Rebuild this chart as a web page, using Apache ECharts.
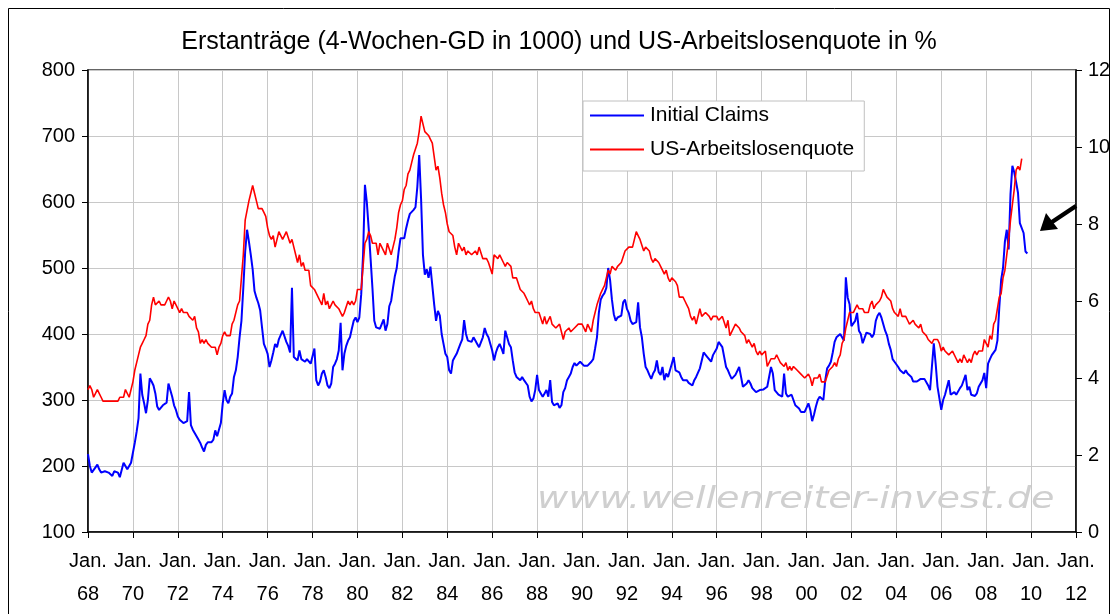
<!DOCTYPE html>
<html>
<head>
<meta charset="utf-8">
<script src="https://cdn.jsdelivr.net/npm/echarts@6/dist/echarts.min.js"></script>
<style>
html,body{margin:0;padding:0;background:#fff;}
#c{width:1118px;height:614px;}
</style>
</head>
<body>
<div id="c"></div>
<script>
// Monthly values starting January 1968
const startYear = 1968;
const xTicks = [1968,1970,1972,1974,1976,1978,1980,1982,1984,1986,1988,1990,1992,1994,1996,1998,2000,2002,2004,2006,2008,2010,2012];

// Initial Claims, 4-week average, thousands (monthly readings)
const claims = [
 218,200,190,192,198,202,195,190,188,192,195,190,
 188,185,192,195,190,183,180,205,200,195,195,205,
 220,235,252,272,340,308,295,280,300,333,328,322,
 310,290,285,288,292,290,296,325,322,305,292,285,
 275,270,268,265,262,268,312,262,255,250,248,240,
 235,228,222,232,236,238,236,240,254,245,248,265,
 295,315,300,295,305,310,335,345,365,395,420,470,
 525,558,540,520,498,465,455,447,436,410,385,378,
 370,350,360,372,385,380,392,395,405,408,388,382,
 372,470,365,362,360,375,362,360,358,362,360,355,
 352,378,330,322,328,340,345,335,322,318,325,350,
 355,362,375,417,345,370,382,390,395,408,420,425,
 418,425,460,520,626,600,560,515,470,420,410,412,
 408,410,422,405,415,442,450,470,488,500,525,545,
 548,545,560,572,582,580,588,592,623,671,605,520,
 490,498,485,502,500,445,420,435,428,400,385,370,
 365,345,340,360,365,370,368,385,392,421,400,390,
 392,388,395,390,385,380,382,395,409,400,395,395,
 375,360,372,380,385,378,370,405,402,385,380,360,
 342,335,332,330,335,330,328,322,305,298,302,315,
 338,315,310,305,310,315,305,330,297,292,290,295,
 288,292,312,318,330,335,340,350,356,352,355,358,
 355,352,350,352,355,358,362,378,395,432,452,458,
 462,470,500,482,452,430,420,425,422,428,448,452,
 438,432,420,415,412,418,448,410,395,370,350,345,
 338,332,340,345,360,342,338,350,330,340,335,345,
 355,365,345,348,342,335,330,328,330,326,325,322,
 330,335,338,348,360,372,375,365,362,358,368,365,
 378,388,385,380,365,350,345,338,332,335,338,340,
 350,335,320,320,325,330,325,318,315,312,312,315,
 318,316,318,320,322,350,340,315,312,308,305,305,
 340,310,305,305,308,300,292,290,287,282,283,282,
 282,295,285,268,278,290,300,305,308,300,330,348,
 352,358,372,388,395,398,400,395,390,486,455,445,
 412,410,420,432,405,400,386,388,402,405,400,395,
 400,420,428,432,425,422,405,398,385,376,362,358,
 360,350,345,342,340,345,340,338,335,328,326,328,
 330,332,335,332,330,322,315,318,386,355,320,318,
 285,300,308,310,330,308,310,312,308,306,318,322,
 325,338,315,320,308,310,306,310,320,325,330,341,
 318,355,362,368,370,376,390,440,482,500,540,558,
 528,612,655,645,630,614,568,570,553,525,522
];

// US unemployment rate, percent (monthly)
const unemp = [
 3.7,3.8,3.7,3.5,3.5,3.7,3.7,3.5,3.4,3.4,3.4,3.4,
 3.4,3.4,3.4,3.4,3.4,3.5,3.5,3.5,3.7,3.7,3.5,3.5,
 3.9,4.2,4.4,4.6,4.8,4.9,5.0,5.1,5.4,5.5,5.9,6.1,
 5.9,5.9,6.0,5.9,5.9,5.9,6.0,6.1,6.0,5.8,6.0,6.0,
 5.8,5.7,5.8,5.7,5.7,5.7,5.6,5.6,5.5,5.6,5.3,5.2,
 4.9,5.0,4.9,5.0,4.9,4.9,4.8,4.8,4.8,4.6,4.8,4.9,
 5.1,5.2,5.1,5.1,5.1,5.4,5.5,5.5,5.9,6.0,6.6,7.2,
 8.1,8.1,8.6,8.8,9.0,8.8,8.6,8.4,8.4,8.4,8.3,8.2,
 7.9,7.7,7.6,7.7,7.4,7.6,7.8,7.8,7.6,7.7,7.8,7.8,
 7.5,7.6,7.4,7.2,7.0,7.2,6.9,7.0,6.8,6.8,6.8,6.4,
 6.4,6.3,6.3,6.1,6.0,5.9,6.2,5.9,6.0,5.8,5.9,6.0,
 5.9,5.9,5.8,5.8,5.6,5.7,5.7,6.0,5.9,6.0,5.9,6.0,
 6.3,6.3,6.3,6.9,7.5,7.6,7.8,7.7,7.5,7.5,7.5,7.2,
 7.5,7.4,7.4,7.2,7.5,7.5,7.2,7.4,7.6,7.9,8.3,8.5,
 8.6,8.9,9.0,9.3,9.4,9.6,9.8,9.8,10.1,10.4,10.8,10.8,
 10.4,10.4,10.3,10.2,10.1,10.1,9.4,9.5,9.2,8.8,8.5,8.3,
 8.0,7.8,7.8,7.7,7.4,7.2,7.5,7.5,7.3,7.4,7.2,7.3,
 7.3,7.2,7.2,7.3,7.2,7.4,7.4,7.1,7.1,7.1,7.0,7.0,
 6.7,7.2,7.2,7.1,7.2,7.2,7.0,6.9,7.0,7.0,6.9,6.6,
 6.6,6.6,6.6,6.3,6.3,6.2,6.1,6.0,5.9,6.0,5.8,5.7,
 5.7,5.7,5.7,5.4,5.6,5.4,5.4,5.6,5.4,5.4,5.3,5.3,
 5.4,5.2,5.0,5.2,5.2,5.3,5.2,5.2,5.3,5.3,5.4,5.4,
 5.4,5.3,5.2,5.4,5.4,5.2,5.5,5.7,5.9,5.9,6.2,6.3,
 6.4,6.6,6.8,6.7,6.9,6.9,6.8,6.9,6.9,7.0,7.0,7.3,
 7.3,7.4,7.4,7.4,7.6,7.8,7.7,7.6,7.6,7.3,7.4,7.4,
 7.3,7.1,7.0,7.1,7.1,7.0,6.9,6.8,6.7,6.8,6.6,6.5,
 6.6,6.6,6.5,6.4,6.1,6.1,6.1,6.0,5.9,5.8,5.6,5.5,
 5.6,5.4,5.4,5.8,5.6,5.6,5.7,5.7,5.6,5.5,5.6,5.6,
 5.6,5.5,5.5,5.6,5.6,5.3,5.5,5.1,5.2,5.2,5.4,5.4,
 5.3,5.2,5.2,5.1,4.9,5.0,4.9,4.8,4.9,4.7,4.6,4.7,
 4.6,4.6,4.7,4.3,4.4,4.5,4.5,4.5,4.6,4.5,4.4,4.4,
 4.3,4.4,4.2,4.3,4.2,4.3,4.3,4.2,4.2,4.1,4.1,4.0,
 4.0,4.1,4.0,3.8,4.0,4.0,4.0,4.1,3.9,3.9,3.9,3.9,
 4.2,4.2,4.3,4.4,4.3,4.5,4.6,4.9,5.0,5.3,5.5,5.7,
 5.7,5.7,5.7,5.9,5.8,5.8,5.8,5.7,5.7,5.7,5.9,6.0,
 5.8,5.9,5.9,6.0,6.1,6.3,6.2,6.1,6.1,6.0,5.8,5.7,
 5.7,5.6,5.8,5.6,5.6,5.6,5.5,5.4,5.4,5.5,5.4,5.4,
 5.3,5.4,5.2,5.2,5.1,5.0,5.0,4.9,5.0,5.0,5.0,4.9,
 4.7,4.8,4.7,4.7,4.6,4.6,4.7,4.7,4.5,4.4,4.5,4.4,
 4.6,4.5,4.4,4.5,4.4,4.6,4.7,4.6,4.7,4.7,4.7,5.0,
 4.9,4.8,5.1,5.0,5.4,5.5,5.8,6.1,6.2,6.6,6.8,7.2,
 7.6,8.1,8.5,8.9,9.4,9.5,9.4,9.7
];

const leftTicks = {min:100, max:800, step:100};
const rightTicks = {min:0, max:12, step:2};

function toPairs(arr){ return arr.map((v,i)=>[startYear + i/12, v]); }

const FONT = '"Liberation Sans", Arial, sans-serif';
const chart = echarts.init(document.getElementById('c'), null, {renderer:'canvas'});

chart.setOption({
  animation:false,
  backgroundColor:'#fff',
  title:{
    text:'Erstanträge (4-Wochen-GD in 1000) und US-Arbeitslosenquote in %',
    left:'center', top:25,
    textStyle:{fontFamily:FONT, fontSize:25, fontWeight:'normal', color:'#000'}
  },
  legend:{
    orient:'vertical', left:583, top:101,
    backgroundColor:'#fff', borderColor:'#c0c0c0', borderWidth:1,
    padding:[4,10,11,7], itemGap:13, itemWidth:54, itemHeight:2,
    icon:'rect',
    textStyle:{fontFamily:FONT, fontSize:21, color:'#000', padding:[0,0,0,1]},
    data:['Initial Claims','US-Arbeitslosenquote']
  },
  grid:{left:88, right:42, top:70, bottom:82, show:true, borderColor:'#333', borderWidth:1.5, backgroundColor:'#fff'},
  xAxis:{
    type:'value', min:xTicks[0], max:xTicks[xTicks.length-1], interval:2,
    axisLine:{show:true, lineStyle:{color:'#000', width:1.5}},
    axisTick:{show:true, length:6, lineStyle:{color:'#000'}},
    splitLine:{show:true, lineStyle:{color:'#c8c8c8', width:1}},
    axisLabel:{fontFamily:FONT, fontSize:20, color:'#000', margin:13, lineHeight:33,
      formatter:v=>'Jan.\n'+String(v%100).padStart(2,'0')}
  },
  yAxis:[{
    type:'value', position:'left', min:leftTicks.min, max:leftTicks.max, interval:leftTicks.step,
    axisLine:{show:true, lineStyle:{color:'#000', width:1.5}},
    axisTick:{show:true, length:6, lineStyle:{color:'#000'}},
    splitLine:{show:true, lineStyle:{color:'#c8c8c8', width:1}},
    axisLabel:{fontFamily:FONT, fontSize:20, color:'#000', margin:13}
  },{
    type:'value', position:'right', min:rightTicks.min, max:rightTicks.max, interval:rightTicks.step,
    axisLine:{show:true, lineStyle:{color:'#000', width:1.5}},
    axisTick:{show:true, length:6, lineStyle:{color:'#000'}},
    splitLine:{show:false},
    axisLabel:{fontFamily:FONT, fontSize:20, color:'#000', margin:12}
  }],
  series:[{
    name:'Initial Claims', type:'line', yAxisIndex:0, data:toPairs(claims),
    showSymbol:false, symbol:'none', color:'#0000ff',
    lineStyle:{color:'#0000ff', width:2}, z:3
  },{
    name:'US-Arbeitslosenquote', type:'line', yAxisIndex:1, data:toPairs(unemp),
    showSymbol:false, symbol:'none', color:'#ff0000',
    lineStyle:{color:'#ff0000', width:1.6}, z:4
  }],
  graphic:[
    {type:'rect', shape:{x:8.5, y:8.5, width:1101, height:640}, style:{fill:null, stroke:'#000', lineWidth:1}, z:-1, silent:true},
    {type:'text', x:537, y:484, scaleX:1.23, z:1, silent:true,
      style:{text:'www.wellenreiter-invest.de', font:'italic 31px "DejaVu Sans", Verdana, sans-serif',
        fill:'#cfcfcf', shadowColor:'rgba(110,110,110,0.55)', shadowBlur:3, shadowOffsetX:1, shadowOffsetY:1}},
    {type:'line', shape:{x1:1076, y1:206, x2:1052, y2:222}, style:{stroke:'#000', lineWidth:4.5}, z:10},
    {type:'polygon', shape:{points:[[1040,231],[1046,213],[1058,229]]}, style:{fill:'#000'}, z:10}
  ]
});
</script>
</body>
</html>
